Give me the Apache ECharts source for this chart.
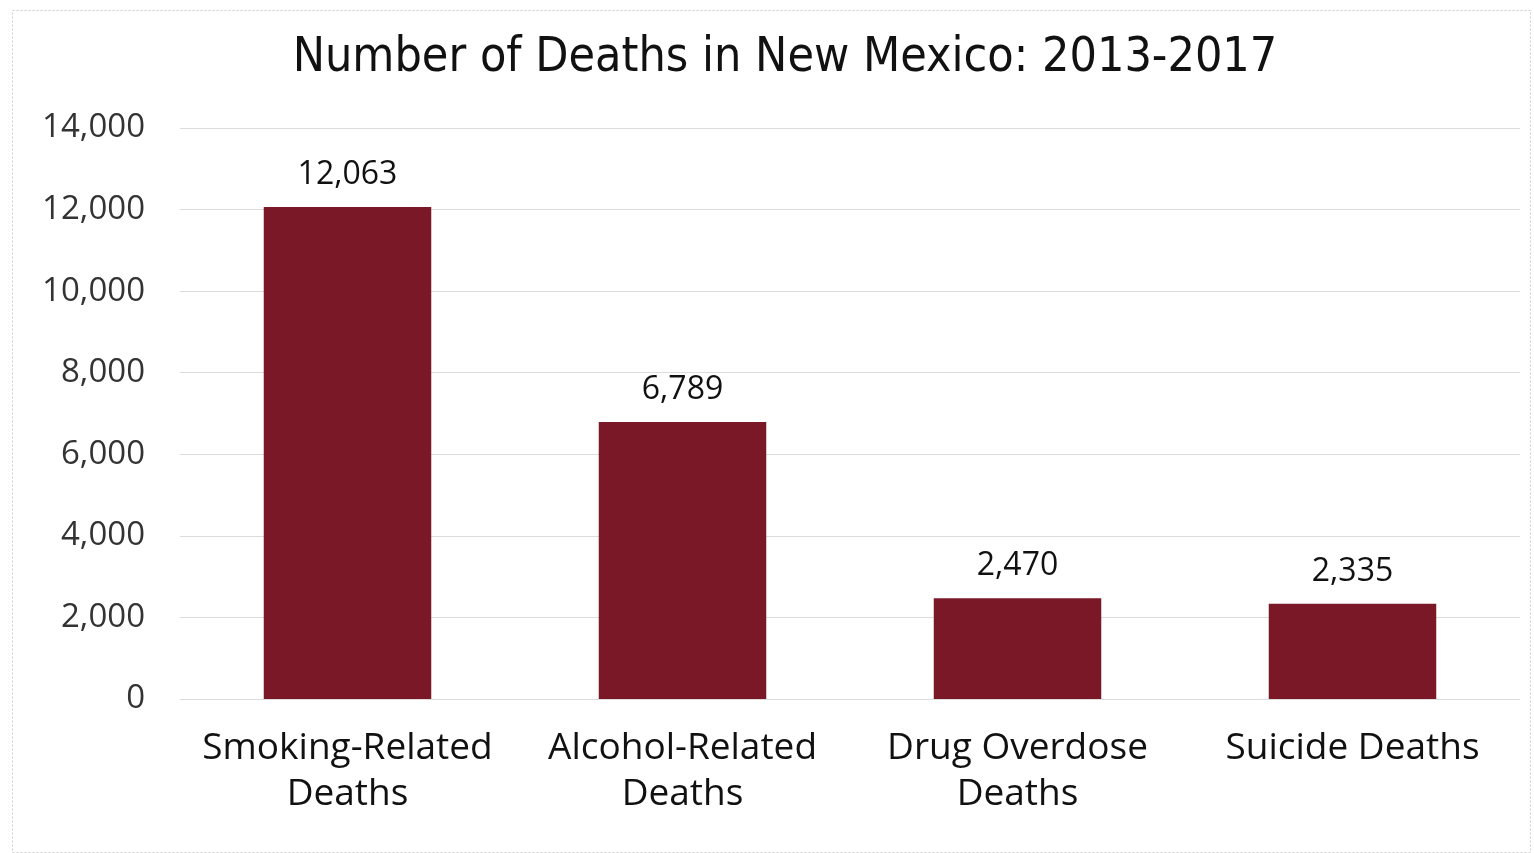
<!DOCTYPE html>
<html>
<head>
<meta charset="utf-8">
<script src="https://cdn.jsdelivr.net/npm/echarts@6/dist/echarts.min.js"></script>
<style>html,body{margin:0;padding:0;background:#fff;}#c{width:1534px;height:853px;}</style>
</head>
<body>
<div id="c"></div>
<script>
const titleText = 'Number of Deaths in New Mexico: 2013-2017';
const categories = ['Smoking-Related\nDeaths', 'Alcohol-Related\nDeaths', 'Drug Overdose\nDeaths', 'Suicide Deaths'];
const deaths = [12063, 6789, 2470, 2335];
const yTicks = { min: 0, max: 14000, interval: 2000 };

const chart = echarts.init(document.getElementById('c'));
chart.setOption({
  backgroundColor: '#fff',
  animation: false,
  graphic: [{
    type: 'rect', left: 10, top: 8,
    shape: { width: 1518, height: 842 },
    style: { fill: 'none', stroke: '#cfcfcf', lineWidth: 1, lineDash: [2, 2] }
  }],
  title: {
    text: titleText, left: 780, top: 30, textAlign: 'center',
    textStyle: { fontFamily: '"Liberation Sans Narrow","DejaVu Sans Condensed","Open Sans",sans-serif', fontWeight: 'normal', fontSize: 48, color: '#111' }
  },
  grid: { left: 180, right: 14, top: 128, bottom: 154 },
  xAxis: {
    type: 'category', data: categories,
    axisLine: { show: false }, axisTick: { show: false },
    axisLabel: { fontFamily: '"Open Sans",sans-serif', fontSize: 37, color: '#111', margin: 26, lineHeight: 46, interval: 0 }
  },
  yAxis: {
    type: 'value', min: yTicks.min, max: yTicks.max, interval: yTicks.interval,
    axisLine: { show: false }, axisTick: { show: false },
    axisLabel: { fontFamily: '"Open Sans",sans-serif', fontSize: 33, color: '#333', margin: 35,
      formatter: v => v.toLocaleString('en-US') },
    splitLine: { lineStyle: { color: '#dcdcdc', width: 1 } }
  },
  series: [{
    type: 'bar', data: deaths, barWidth: '50%',
    itemStyle: { color: '#7a1828' },
    label: { show: true, position: 'top', distance: 16, fontFamily: '"Open Sans",sans-serif', fontSize: 32, color: '#111',
      formatter: p => p.value.toLocaleString('en-US') }
  }]
});
</script>
</body>
</html>
